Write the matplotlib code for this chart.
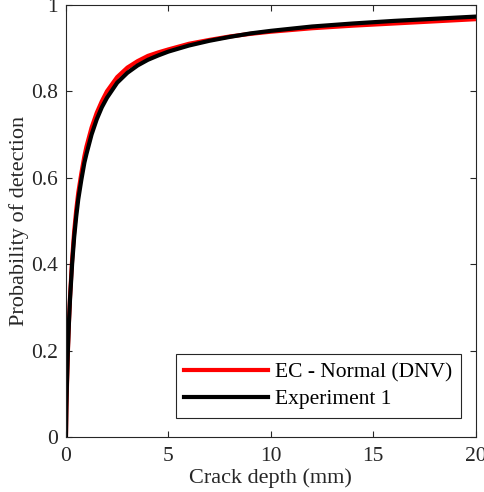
import matplotlib
matplotlib.use("Agg")
import matplotlib.pyplot as plt

crack_depth = [0, 0.02, 0.05, 0.1, 0.15, 0.2, 0.3, 0.4, 0.5, 0.6, 0.75, 0.9, 1.0, 1.25, 1.5, 1.75, 2.0, 2.5,
               3.0, 3.5, 4.0, 4.5, 5, 6, 7, 8, 9, 10, 12, 14, 16, 18, 20]
pod_dnv = [0, 0.06, 0.12, 0.205, 0.27, 0.325, 0.41, 0.475, 0.525, 0.565, 0.61, 0.65, 0.672, 0.716, 0.75,
           0.777, 0.80, 0.833, 0.855, 0.870, 0.882, 0.890, 0.897, 0.910, 0.919, 0.927, 0.933, 0.938,
           0.946, 0.952, 0.957, 0.962, 0.967]
pod_exp1 = [0, 0.07, 0.13, 0.21, 0.27, 0.32, 0.40, 0.462, 0.51, 0.55, 0.595, 0.635, 0.655, 0.700, 0.735,
            0.763, 0.785, 0.820, 0.843, 0.860, 0.873, 0.883, 0.892, 0.906, 0.917, 0.926, 0.934, 0.940,
            0.950, 0.957, 0.963, 0.968, 0.973]
series_labels = ["EC - Normal (DNV)", "Experiment 1"]
x_ticks = [0, 5, 10, 15, 20]
y_ticks = [0, 0.2, 0.4, 0.6, 0.8, 1]
y_tick_labels = ['0', '0.2', '0.4', '0.6', '0.8', '1']

plt.rcParams['font.family'] = ['Liberation Serif', 'DejaVu Serif']

fig = plt.figure(figsize=(4.85, 4.92), dpi=100)
ax = fig.add_axes([0.136, 0.112, 0.845, 0.878])

ax.plot(crack_depth, pod_dnv, color='#ff0000', lw=3.0, label=series_labels[0],
        solid_joinstyle='round')
ax.plot(crack_depth, pod_exp1, color='black', lw=3.0, label=series_labels[1],
        solid_joinstyle='round')

ax.set_xlim(0, 20)
ax.set_ylim(0, 1)
ax.set_xticks(x_ticks)
ax.set_yticks(y_ticks)
ax.set_xticklabels([str(t) for t in x_ticks])
ax.set_yticklabels(y_tick_labels)
ax.tick_params(direction='in', top=True, right=True, length=4, width=0.8,
               colors='#262626', labelsize=15.5, pad=6)
ax.tick_params(axis='x', pad=7)
for s in ax.spines.values():
    s.set_color('#262626')
    s.set_linewidth(0.8)

ax.set_xlabel('Crack depth (mm)', fontsize=16, color='#262626', labelpad=2)
ax.set_ylabel('Probability of detection', fontsize=16, color='#262626', labelpad=1)

leg = ax.legend(loc='lower right', bbox_to_anchor=(0.963, 0.044), borderaxespad=0,
                fontsize=15.5, handlelength=3.9, frameon=True, fancybox=False,
                edgecolor='#262626', framealpha=1, borderpad=0.4, labelspacing=0.3,
                handletextpad=0.3)
leg.get_frame().set_linewidth(0.8)

fig.savefig('out.png', dpi=100)
